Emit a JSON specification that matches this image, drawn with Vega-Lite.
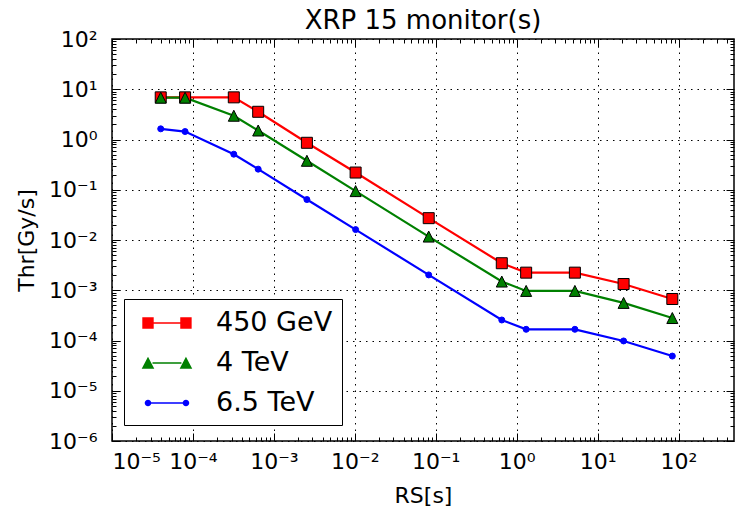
{
  "$schema": "https://vega.github.io/schema/vega-lite/v6.json",
  "width": 622,
  "height": 402,
  "autosize": {"type": "none"},
  "padding": {"left": 112, "top": 39, "right": 8, "bottom": 69},
  "title": {"text": "XRP 15 monitor(s)", "fontSize": 26, "font": "DejaVu Sans", "fontWeight": "normal", "color": "#000", "offset": -6, "anchor": "middle"},
  "config": {
    "view": {"stroke": "#000", "strokeWidth": 1.5},
    "font": "DejaVu Sans",
    "axis": {"domain": false, "tickColor": "#000", "tickWidth": 1, "labelColor": "#000", "titleColor": "#000", "labelFont": "DejaVu Sans", "titleFont": "DejaVu Sans", "labelFontSize": 22, "titleFontSize": 22, "titleFontWeight": "normal", "gridColor": "#000", "gridOpacity": 1, "gridWidth": 1, "gridDash": [1.5, 5]},
    "legend": {"title": null, "orient": "none", "legendX": 12, "legendY": 260, "padding": 9, "rowPadding": 12, "symbolSize": 900, "labelOffset": 53, "labelFontSize": 27, "labelFont": "DejaVu Sans", "labelColor": "#000", "strokeColor": "#000", "fillColor": "#fff", "cornerRadius": 0, "symbolStrokeWidth": 0, "symbolOpacity": 1, "labelLimit": 400}
  },
  "data": {"values": [
    {"x": 4e-5, "y": 6.9, "s": "450 GeV"},
    {"x": 8e-5, "y": 6.9, "s": "450 GeV"},
    {"x": 3.2e-4, "y": 6.9, "s": "450 GeV"},
    {"x": 6.4e-4, "y": 3.56, "s": "450 GeV"},
    {"x": 2.56e-3, "y": 0.86, "s": "450 GeV"},
    {"x": 1.024e-2, "y": 0.22, "s": "450 GeV"},
    {"x": 8.192e-2, "y": 0.0272, "s": "450 GeV"},
    {"x": 0.65536, "y": 0.00345, "s": "450 GeV"},
    {"x": 1.31072, "y": 0.00224, "s": "450 GeV"},
    {"x": 5.24288, "y": 0.00224, "s": "450 GeV"},
    {"x": 20.97152, "y": 0.00133, "s": "450 GeV"},
    {"x": 83.88608, "y": 0.00067, "s": "450 GeV"},
    {"x": 4e-5, "y": 6.8, "s": "4 TeV"},
    {"x": 8e-5, "y": 6.8, "s": "4 TeV"},
    {"x": 3.2e-4, "y": 2.97, "s": "4 TeV"},
    {"x": 6.4e-4, "y": 1.51, "s": "4 TeV"},
    {"x": 2.56e-3, "y": 0.377, "s": "4 TeV"},
    {"x": 1.024e-2, "y": 0.094, "s": "4 TeV"},
    {"x": 8.192e-2, "y": 0.0117, "s": "4 TeV"},
    {"x": 0.65536, "y": 0.00149, "s": "4 TeV"},
    {"x": 1.31072, "y": 0.00097, "s": "4 TeV"},
    {"x": 5.24288, "y": 0.00097, "s": "4 TeV"},
    {"x": 20.97152, "y": 0.00056, "s": "4 TeV"},
    {"x": 83.88608, "y": 0.00028, "s": "4 TeV"},
    {"x": 4e-5, "y": 1.63, "s": "6.5 TeV"},
    {"x": 8e-5, "y": 1.44, "s": "6.5 TeV"},
    {"x": 3.2e-4, "y": 0.51, "s": "6.5 TeV"},
    {"x": 6.4e-4, "y": 0.257, "s": "6.5 TeV"},
    {"x": 2.56e-3, "y": 0.0638, "s": "6.5 TeV"},
    {"x": 1.024e-2, "y": 0.0161, "s": "6.5 TeV"},
    {"x": 8.192e-2, "y": 0.00202, "s": "6.5 TeV"},
    {"x": 0.65536, "y": 0.000256, "s": "6.5 TeV"},
    {"x": 1.31072, "y": 0.000167, "s": "6.5 TeV"},
    {"x": 5.24288, "y": 0.000167, "s": "6.5 TeV"},
    {"x": 20.97152, "y": 0.000098, "s": "6.5 TeV"},
    {"x": 83.88608, "y": 0.000049, "s": "6.5 TeV"}
  ]},
  "resolve": {"axis": {"x": "independent", "y": "independent"}},
  "layer": [
    {
      "mark": {"type": "line", "strokeWidth": 2.2},
      "encoding": {
        "x": {"field": "x", "type": "quantitative",
          "scale": {"type": "log", "domain": [1e-5, 485], "nice": false, "zero": false},
          "axis": {"orient": "bottom", "title": "RS[s]", "values": [1e-5, 1e-4, 1e-3, 1e-2, 1e-1, 1, 10, 100], "tickSize": -8, "labelPadding": 18, "titlePadding": 13, "grid": true,
            "labelExpr": "'10' + replace(replace(replace(replace(replace(replace(replace(replace(replace('' + round(log(datum.value)/LN10), '-', '⁻'), '0', '⁰'), '1', '¹'), '2', '²'), '3', '³'), '4', '⁴'), '5', '⁵'), '6', '⁶'), '7', '⁷')"}},
        "y": {"field": "y", "type": "quantitative",
          "scale": {"type": "log", "domain": [1e-6, 100], "nice": false, "zero": false},
          "axis": {"orient": "left", "title": "Thr[Gy/s]", "values": [1e-6, 1e-5, 1e-4, 1e-3, 1e-2, 1e-1, 1, 10, 100], "tickSize": -8, "labelPadding": 23, "titlePadding": 10, "grid": true,
            "labelExpr": "'10' + replace(replace(replace(replace(replace(replace(replace(replace(replace('' + round(log(datum.value)/LN10), '-', '⁻'), '0', '⁰'), '1', '¹'), '2', '²'), '3', '³'), '4', '⁴'), '5', '⁵'), '6', '⁶'), '7', '⁷')"}},
        "color": {"field": "s", "type": "nominal",
          "scale": {"domain": ["450 GeV", "4 TeV", "6.5 TeV"], "range": ["#ff0000", "#008000", "#0000ff"]}}
      }
    },
    {
      "transform": [{"filter": "datum.s === '450 GeV'"}],
      "mark": {"type": "point", "shape": "square", "size": 121, "filled": true, "fill": "#ff0000", "stroke": "#000", "strokeWidth": 1, "opacity": 1},
      "encoding": {
        "x": {"field": "x", "type": "quantitative", "axis": {"orient": "top", "values": [1e-5, 1e-4, 1e-3, 1e-2, 1e-1, 1, 10, 100], "tickSize": -8, "labels": false, "grid": false, "title": null}},
        "y": {"field": "y", "type": "quantitative", "axis": {"orient": "right", "values": [1e-6, 1e-5, 1e-4, 1e-3, 1e-2, 1e-1, 1, 10, 100], "tickSize": -8, "labels": false, "grid": false, "title": null}}
      }
    },
    {
      "transform": [{"filter": "datum.s === '4 TeV'"}],
      "mark": {"type": "point", "shape": "M0,-1L-1,1L1,1Z", "size": 121, "filled": true, "fill": "#008000", "stroke": "#000", "strokeWidth": 1, "opacity": 1},
      "encoding": {
        "x": {"field": "x", "type": "quantitative", "axis": {"orient": "bottom", "values": [2e-5,3e-5,4e-5,5e-5,6e-5,7e-5,8e-5,9e-5,2e-4,3e-4,4e-4,5e-4,6e-4,7e-4,8e-4,9e-4,2e-3,3e-3,4e-3,5e-3,6e-3,7e-3,8e-3,9e-3,2e-2,3e-2,4e-2,5e-2,6e-2,7e-2,8e-2,9e-2,0.2,0.3,0.4,0.5,0.6,0.7,0.8,0.9,2,3,4,5,6,7,8,9,20,30,40,50,60,70,80,90,200,300,400], "tickSize": -4, "labels": false, "grid": false, "title": null}},
        "y": {"field": "y", "type": "quantitative", "axis": {"orient": "left", "values": [2e-6,3e-6,4e-6,5e-6,6e-6,7e-6,8e-6,9e-6,2e-5,3e-5,4e-5,5e-5,6e-5,7e-5,8e-5,9e-5,2e-4,3e-4,4e-4,5e-4,6e-4,7e-4,8e-4,9e-4,2e-3,3e-3,4e-3,5e-3,6e-3,7e-3,8e-3,9e-3,2e-2,3e-2,4e-2,5e-2,6e-2,7e-2,8e-2,9e-2,0.2,0.3,0.4,0.5,0.6,0.7,0.8,0.9,2,3,4,5,6,7,8,9,20,30,40,50,60,70,80,90], "tickSize": -4, "labels": false, "grid": false, "title": null}}
      }
    },
    {
      "transform": [{"filter": "datum.s === '6.5 TeV'"}],
      "mark": {"type": "point", "shape": "circle", "size": 36, "filled": true, "fill": "#0000ff", "stroke": "#0000ff", "strokeWidth": 1, "opacity": 1},
      "encoding": {
        "x": {"field": "x", "type": "quantitative", "axis": {"orient": "top", "values": [2e-5,3e-5,4e-5,5e-5,6e-5,7e-5,8e-5,9e-5,2e-4,3e-4,4e-4,5e-4,6e-4,7e-4,8e-4,9e-4,2e-3,3e-3,4e-3,5e-3,6e-3,7e-3,8e-3,9e-3,2e-2,3e-2,4e-2,5e-2,6e-2,7e-2,8e-2,9e-2,0.2,0.3,0.4,0.5,0.6,0.7,0.8,0.9,2,3,4,5,6,7,8,9,20,30,40,50,60,70,80,90,200,300,400], "tickSize": -4, "labels": false, "grid": false, "title": null}},
        "y": {"field": "y", "type": "quantitative", "axis": {"orient": "right", "values": [2e-6,3e-6,4e-6,5e-6,6e-6,7e-6,8e-6,9e-6,2e-5,3e-5,4e-5,5e-5,6e-5,7e-5,8e-5,9e-5,2e-4,3e-4,4e-4,5e-4,6e-4,7e-4,8e-4,9e-4,2e-3,3e-3,4e-3,5e-3,6e-3,7e-3,8e-3,9e-3,2e-2,3e-2,4e-2,5e-2,6e-2,7e-2,8e-2,9e-2,0.2,0.3,0.4,0.5,0.6,0.7,0.8,0.9,2,3,4,5,6,7,8,9,20,30,40,50,60,70,80,90], "tickSize": -4, "labels": false, "grid": false, "title": null}}
      }
    },
    {
      "transform": [{"filter": "false"}],
      "mark": {"type": "point", "filled": true, "opacity": 1, "strokeWidth": 0},
      "encoding": {
        "x": {"field": "x", "type": "quantitative", "axis": null},
        "y": {"field": "y", "type": "quantitative", "axis": null},
        "color": {"field": "s", "type": "nominal"},
        "shape": {"field": "s", "type": "nominal",
          "scale": {"domain": ["450 GeV", "4 TeV", "6.5 TeV"], "range": [
            "M0.38,-0.05H2.15V0.05H0.38ZM-0.38,-0.38H0.38V0.38H-0.38ZM2.15,-0.38H2.91V0.38H2.15Z",
            "M0.3,-0.05H2.23V0.05H0.3ZM0,-0.42L0.42,0.38H-0.42ZM2.53,-0.42L2.95,0.38H2.11Z",
            "M0.2,-0.05H2.33V0.05H0.2ZM-0.22,0A0.22,0.22,0,1,1,0.22,0A0.22,0.22,0,1,1,-0.22,0ZM2.31,0A0.22,0.22,0,1,1,2.75,0A0.22,0.22,0,1,1,2.31,0Z"]}}
      }
    }
  ]
}
